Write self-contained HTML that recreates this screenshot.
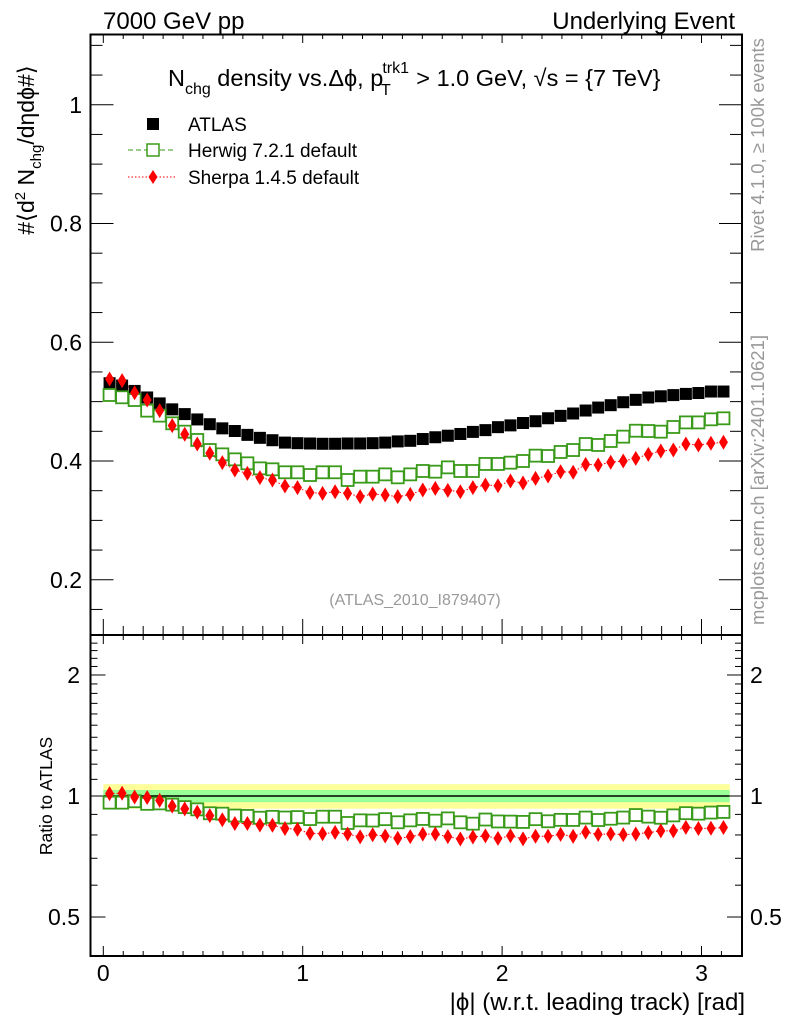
<!DOCTYPE html>
<html><head><meta charset="utf-8"><style>
html,body{margin:0;padding:0;background:#fff;}
svg{display:block;font-family:"Liberation Sans",sans-serif;}
</style></head><body>
<svg id="chart" width="786" height="1024" viewBox="0 0 786 1024" xmlns="http://www.w3.org/2000/svg">
<rect width="786" height="1024" fill="#fff"/>
<text x="103" y="29" font-size="24">7000 GeV pp</text>
<text x="735" y="29" font-size="24" text-anchor="end">Underlying Event</text>
<text x="168" y="86" font-size="23.5">N<tspan font-size="16" dy="8">chg</tspan><tspan dy="-8"> density vs.Δϕ, p</tspan><tspan font-size="16" dx="-1" dy="-13">trk1</tspan><tspan font-size="16" dx="-28" dy="22">T</tspan><tspan dx="19" dy="-9"> &gt; 1.0 GeV, √s = {7 TeV}</tspan></text>
<text transform="translate(34,150) rotate(-90)" font-size="23" text-anchor="middle">#⟨d<tspan font-size="15" dy="-9">2</tspan><tspan dy="9"> N</tspan><tspan font-size="15" dy="7">chg</tspan><tspan dy="-7">/dηdϕ#⟩</tspan></text>
<text transform="translate(764,145) rotate(-90)" font-size="18.5" fill="#999" text-anchor="middle">Rivet 4.1.0, ≥ 100k events</text>
<text transform="translate(764,480) rotate(-90)" font-size="18.5" fill="#999" text-anchor="middle">mcplots.cern.ch [arXiv:2401.10621]</text>
<text x="415" y="605" font-size="16" fill="#999" text-anchor="middle">(ATLAS_2010_I879407)</text>
<text transform="translate(52,796) rotate(-90)" font-size="17.5" text-anchor="middle">Ratio to ATLAS</text>
<text x="745" y="1010" font-size="24" text-anchor="end">|ϕ| (w.r.t. leading track) [rad]</text>
<g id="ticks"></g>
<g id="band"></g>
<g id="marks"></g>
<g id="legend">
 <rect x="147" y="118" width="12" height="12" fill="#000"/>
 <text x="188" y="131" font-size="19">ATLAS</text>
 <line x1="128" y1="150" x2="175" y2="150" stroke="#3a9a1a" stroke-dasharray="5,3"/>
 <rect x="147" y="144" width="12" height="12" fill="#fff" stroke="#3a9a1a" stroke-width="1.5"/>
 <text x="188" y="157" font-size="19">Herwig 7.2.1 default</text>
 <line x1="128" y1="177" x2="175" y2="177" stroke="#f00" stroke-dasharray="1.5,2"/>
 <polygon points="153,170 157.5,177 153,184 148.5,177" fill="#f00"/>
 <text x="188" y="184" font-size="19">Sherpa 1.4.5 default</text>
</g>
<rect x="90.5" y="34.5" width="651.5" height="600.5" fill="none" stroke="#000" stroke-width="2"/>
<rect x="90.5" y="635" width="651.5" height="321" fill="none" stroke="#000" stroke-width="2"/>
</svg>
<script>
const atlas=[0.531,0.527,0.518,0.507,0.497,0.487,0.479,0.470,0.462,0.455,0.4505,0.444,0.439,0.435,0.431,0.430,0.4295,0.429,0.429,0.4295,0.4295,0.430,0.431,0.433,0.434,0.437,0.440,0.4426,0.4455,0.449,0.452,0.457,0.460,0.464,0.467,0.472,0.476,0.480,0.485,0.490,0.494,0.499,0.503,0.507,0.509,0.511,0.513,0.5145,0.517,0.517];
const herwig=[0.5112,0.5073,0.5027,0.4848,0.4764,0.4635,0.4494,0.4354,0.4185,0.4112,0.4028,0.3961,0.3876,0.386,0.381,0.381,0.3764,0.381,0.381,0.368,0.3736,0.3736,0.3775,0.3725,0.3775,0.3832,0.382,0.3893,0.3832,0.3832,0.395,0.395,0.3972,0.400,0.409,0.4084,0.4152,0.4185,0.4286,0.427,0.4337,0.441,0.451,0.4505,0.4494,0.4573,0.465,0.465,0.4702,0.4719];
const sherpa=[0.5381,0.5353,0.515,0.5027,0.4848,0.4595,0.445,0.4286,0.413,0.3972,0.3848,0.3792,0.3719,0.368,0.3579,0.3551,0.3467,0.3455,0.3483,0.3455,0.3399,0.3444,0.3427,0.3399,0.3438,0.3512,0.354,0.3506,0.3483,0.3551,0.3596,0.3584,0.3663,0.3629,0.3708,0.3747,0.382,0.381,0.3944,0.3933,0.3978,0.400,0.4045,0.4112,0.4168,0.4185,0.4286,0.427,0.4298,0.4315];
const nBins=50;
const xTicks=[0,1,2,3];
const yTicks=[0.2,0.4,0.6,0.8,1];
const yTickLabels=["0.2","0.4","0.6","0.8","1"];
const rTicks=[0.5,1,2];
const rTickLabels=["0.5","1","2"];
const bandInner=0.035, bandOuter=0.07;

const NS="http://www.w3.org/2000/svg";
const X=v=>103.3+v*199.4;
const Y=v=>461-(v-0.4)*593.75;
const R=v=>796-402*Math.log10(v);
function mk(tag,attrs,parent){const e=document.createElementNS(NS,tag);for(const k in attrs)e.setAttribute(k,attrs[k]);parent.appendChild(e);return e;}
const T=document.getElementById('ticks'),B=document.getElementById('band'),M=document.getElementById('marks');
const L=90.5,Rt=742;
for(let v=0;v<=3.19;v+=0.1){
  const major=Math.abs(v-Math.round(v))<1e-6, x=X(v);
  let l=mk('line',{x1:x,y1:34,x2:x,y2:34+(major?9:5),stroke:'#000'},T);
  
  
  l=mk('line',{x1:x,y1:635,x2:x,y2:635-(major?16:9),stroke:'#000'},T);
  
  
  l=mk('line',{x1:x,y1:635,x2:x,y2:635+(major?9:5),stroke:'#000'},T);
  
  
  l=mk('line',{x1:x,y1:956,x2:x,y2:956-(major?10:5),stroke:'#000'},T);
  
  
}
xTicks.forEach(v=>{
  const t=mk('text',{x:X(v),y:981,'font-size':23,'text-anchor':'middle'},T);t.textContent=v;
  
  
});
for(let i=3;i<=22;i++){
  const v=i*0.05, y=Y(v); if(y<35||y>634)continue;
  const major=i%4===0;
  let l=mk('line',{x1:L,y1:y,x2:L+(major?23:12),y2:y,stroke:'#000'},T);
  
  
  l=mk('line',{x1:Rt,y1:y,x2:Rt-(major?23:12),y2:y,stroke:'#000'},T);
  
  
}
yTicks.forEach((v,i)=>{
  const t=mk('text',{x:82,y:Y(v)+8,'font-size':23,'text-anchor':'end'},T);t.textContent=yTickLabels[i];
  
  
});
for(let i=4;i<=25;i++){
  const v=i/10, y=R(v); if(y<637||y>955)continue;
  const major=(i===5||i===10||i===20);
  let l=mk('line',{x1:L,y1:y,x2:L+(major?15:7),y2:y,stroke:'#000'},T);
  
  
  l=mk('line',{x1:Rt,y1:y,x2:Rt-(major?15:7),y2:y,stroke:'#000'},T);
  
  
}
rTicks.forEach((v,i)=>{
  let t=mk('text',{x:80,y:R(v)+8,'font-size':23,'text-anchor':'end'},T);t.textContent=rTickLabels[i];
  
  
  t=mk('text',{x:750,y:R(v)+8,'font-size':23},T);t.textContent=rTickLabels[i];
  
  
});
const bw=X(Math.PI)-X(0);
let b=mk('rect',{x:X(0),y:R(1+bandOuter),width:bw,height:R(1-bandOuter)-R(1+bandOuter),fill:'#ffff99'},B);


b=mk('rect',{x:X(0),y:R(1+bandInner),width:bw,height:R(1-bandInner)-R(1+bandInner),fill:'#99ff99'},B);


b=mk('line',{x1:X(0),x2:X(Math.PI),y1:R(1),y2:R(1),stroke:'#000','stroke-width':1.5},B);


const xc=i=>X((i+0.5)*Math.PI/nBins);
function path(arr,f){return arr.map((v,i)=>(i?'L':'M')+xc(i).toFixed(1)+','+f(v,i).toFixed(1)).join('');}
let p=mk('path',{d:path(herwig,v=>Y(v)),fill:'none',stroke:'#3a9a1a','stroke-dasharray':'4,3'},M);


p=mk('path',{d:path(sherpa,v=>Y(v)),fill:'none',stroke:'#f00','stroke-dasharray':'1.5,2'},M);


p=mk('path',{d:path(herwig,(v,i)=>R(v/atlas[i])),fill:'none',stroke:'#3a9a1a','stroke-dasharray':'4,3'},M);


p=mk('path',{d:path(sherpa,(v,i)=>R(v/atlas[i])),fill:'none',stroke:'#f00','stroke-dasharray':'1.5,2'},M);


function sq(x,y,name){const e=mk('rect',{x:x-6,y:y-6,width:12,height:12,fill:'#fff',stroke:'#3a9a1a','stroke-width':1.8},M);
  
  }
function dia(x,y,name){const e=mk('polygon',{points:`${x},${y-7.5} ${x+4.5},${y} ${x},${y+7.5} ${x-4.5},${y}`,fill:'#f00'},M);
  
  }
atlas.forEach((v,i)=>{
  const e=mk('rect',{x:xc(i)-6,y:Y(v)-6,width:12,height:12,fill:'#000'},M);
  
  
});
herwig.forEach((v,i)=>{sq(xc(i),Y(v),'herwig-point');sq(xc(i),R(v/atlas[i]),'herwig-ratio-point');});
sherpa.forEach((v,i)=>{dia(xc(i),Y(v),'sherpa-point');dia(xc(i),R(v/atlas[i]),'sherpa-ratio-point');});
</script>
</body></html>
